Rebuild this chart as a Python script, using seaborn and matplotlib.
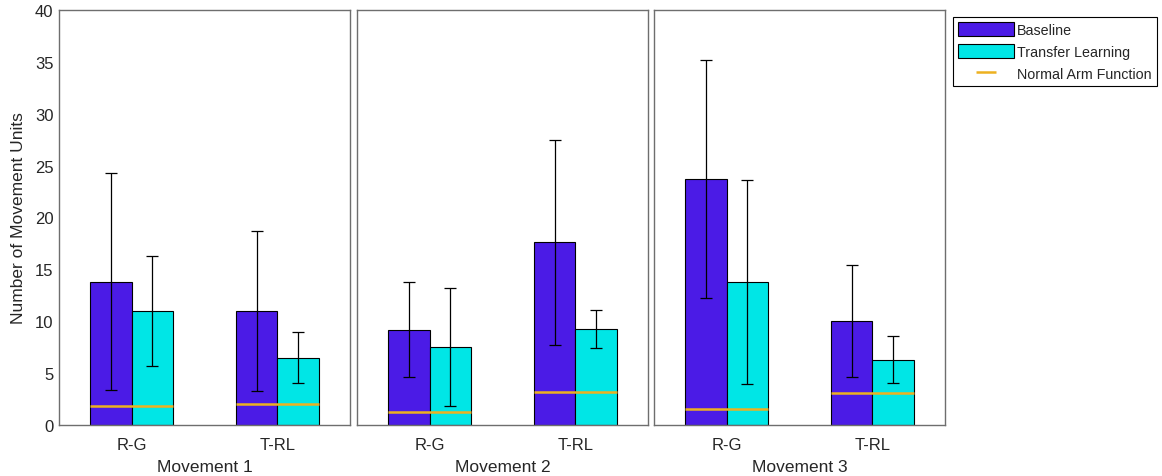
import matplotlib
matplotlib.use("Agg")
import matplotlib.pyplot as plt
from matplotlib.patches import Patch
from matplotlib.lines import Line2D
import seaborn as sns
import pandas as pd

# Mean movement-unit counts per movement, task and condition
movements = ["Movement 1", "Movement 2", "Movement 3"]
tasks = ["R-G", "T-RL"]
conditions = ["Baseline", "Transfer Learning"]

baseline_mean = [[13.8, 11.0], [9.2, 17.6], [23.7, 10.0]]
baseline_sd = [[10.45, 7.7], [4.6, 9.9], [11.5, 5.4]]
transfer_mean = [[11.0, 6.5], [7.55, 9.25], [13.8, 6.3]]
transfer_sd = [[5.3, 2.43], [5.7, 1.8], [9.85, 2.25]]
normal_arm = [[1.8, 2.05], [1.25, 3.2], [1.5, 3.05]]

colors = {"Baseline": "#4B1BE6", "Transfer Learning": "#00E6E6"}
normal_color = "#EDB120"

rows = []
for m, mov in enumerate(movements):
    for t, task in enumerate(tasks):
        rows.append(dict(movement=mov, task=task, condition="Baseline",
                         value=baseline_mean[m][t], sd=baseline_sd[m][t]))
        rows.append(dict(movement=mov, task=task, condition="Transfer Learning",
                         value=transfer_mean[m][t], sd=transfer_sd[m][t]))
df = pd.DataFrame(rows)

sns.set_theme(style="white")
plt.rcParams["font.family"] = ["Liberation Sans", "DejaVu Sans"]

fig = plt.figure(figsize=(11.62, 4.77), dpi=100)
lefts = [59, 357, 654]
panel_w = 291
bottom = 1 - 426 / 477
height = (426 - 11) / 477

spine_color = "#6e6e6e"
text_color = "#262626"
for m, mov in enumerate(movements):
    ax = fig.add_axes([lefts[m] / 1162, bottom, panel_w / 1162, height])
    sub = df[df.movement == mov]
    sns.barplot(data=sub, x="task", y="value", hue="condition",
                order=tasks, hue_order=conditions, palette=colors,
                saturation=1, width=0.57, gap=0, errorbar=None,
                edgecolor="black", linewidth=0.8, legend=False, ax=ax)

    bars = sorted(ax.patches, key=lambda p: p.get_x())
    sds = []
    for task in tasks:
        for cond in conditions:
            sds.append(sub[(sub.task == task) & (sub.condition == cond)].sd.iloc[0])
    for bar, sd in zip(bars, sds):
        xc = bar.get_x() + bar.get_width() / 2
        ax.errorbar(xc, bar.get_height(), yerr=sd, fmt="none", ecolor="black",
                    elinewidth=0.9, capsize=4.5, capthick=0.9, zorder=4)

    # Normal arm function reference across each task's bar pair
    for t in range(len(tasks)):
        b0, b1 = bars[2 * t], bars[2 * t + 1]
        ax.hlines(normal_arm[m][t], b0.get_x(), b1.get_x() + b1.get_width(),
                  color=normal_color, linewidth=1.8, zorder=3)

    ax.set_xlim(-0.5, 1.5)
    ax.set_ylim(0, 40)
    ax.set_yticks(range(0, 41, 5))
    ax.set_xlabel(mov, fontsize=12.5, color=text_color, labelpad=5)
    ax.tick_params(axis="x", labelsize=12, colors=text_color, length=0, pad=9)
    if m == 0:
        ax.set_ylabel("Number of Movement Units", fontsize=12.5, color=text_color, labelpad=6)
        ax.tick_params(axis="y", labelsize=12, colors=text_color, length=0, pad=4)
    else:
        ax.set_ylabel("")
        ax.set_yticklabels([])
        ax.tick_params(axis="y", length=0)
    for s in ax.spines.values():
        s.set_visible(True)
        s.set_color(spine_color)
        s.set_linewidth(1.0)

handles = [
    Patch(facecolor=colors["Baseline"], edgecolor="black", linewidth=0.8),
    Patch(facecolor=colors["Transfer Learning"], edgecolor="black", linewidth=0.8),
    Line2D([], [], color=normal_color, marker="_", markersize=14,
           markeredgewidth=1.8, linestyle="none"),
]
leg = fig.legend(handles, ["Baseline", "Transfer Learning", "Normal Arm Function"],
                 loc="upper left", bbox_to_anchor=(953 / 1162, 1 - 18 / 477),
                 fontsize=10.3, frameon=True, fancybox=False, framealpha=1,
                 edgecolor="black", handlelength=3.9, handleheight=1.1,
                 handletextpad=0.25, labelspacing=0.5, borderpad=0.35,
                 borderaxespad=0)
leg.get_frame().set_linewidth(0.8)

fig.savefig("out.png", dpi=100)
